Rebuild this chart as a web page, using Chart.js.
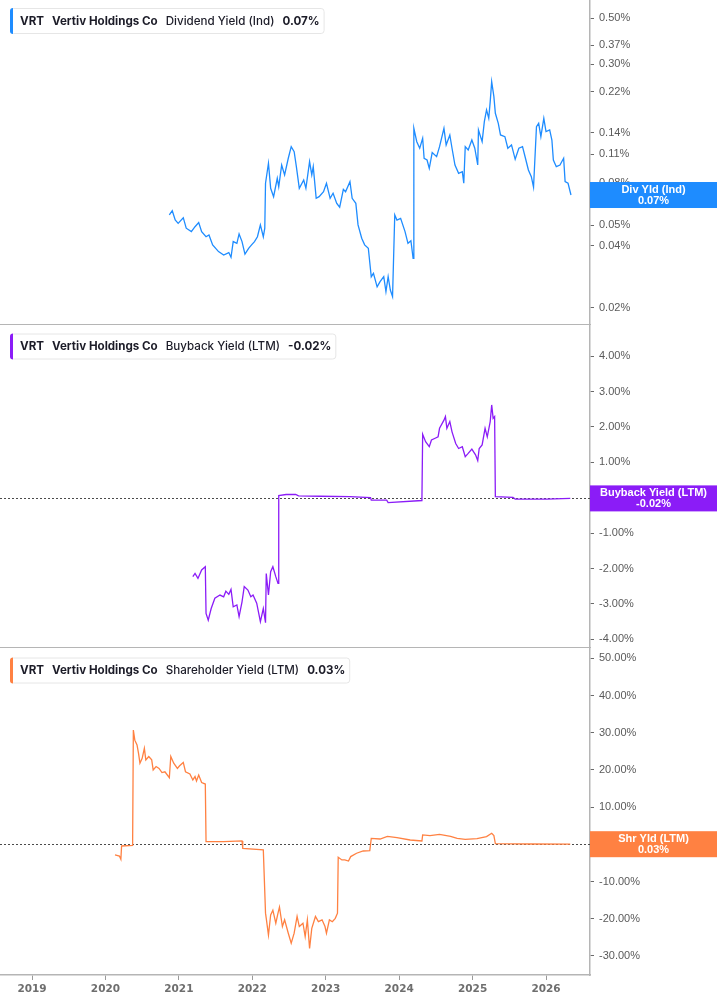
<!DOCTYPE html>
<html>
<head>
<meta charset="utf-8">
<script src="https://cdn.jsdelivr.net/npm/chart.js@4.4.1/dist/chart.umd.min.js"></script>
<style>
  body { margin: 0; background: #fff; }
  .panel { position: absolute; left: 0; width: 717px; }
</style>
</head>
<body>
<div class="panel" style="top:0;height:325px"><canvas id="div-chart"></canvas></div>
<div class="panel" style="top:325px;height:323px"><canvas id="buyback-chart"></canvas></div>
<div class="panel" style="top:648px;height:357px"><canvas id="shr-chart"></canvas></div>
<script>
// [year, value in %]
let divYield = [
  [2020.87,0.0562],[2020.91,0.0589],[2020.95,0.0531],[2020.99,0.0512],[2021.06,0.0545],[2021.10,0.0485],
  [2021.17,0.0467],[2021.22,0.0493],[2021.27,0.0516],[2021.31,0.0467],[2021.37,0.0441],[2021.41,0.0450],
  [2021.46,0.0403],[2021.54,0.0374],[2021.61,0.0360],[2021.68,0.0370],[2021.71,0.0351],[2021.74,0.0418],
  [2021.79,0.0410],[2021.82,0.0455],[2021.86,0.0418],[2021.90,0.0364],[2021.95,0.0388],[2021.99,0.0403],
  [2022.03,0.0418],[2022.07,0.0441],[2022.11,0.0503],[2022.15,0.0441],[2022.17,0.0485],[2022.18,0.0799],
  [2022.22,0.0997],[2022.25,0.0755],[2022.29,0.0688],[2022.34,0.0844],[2022.36,0.0769],[2022.40,0.0978],
  [2022.44,0.0876],[2022.49,0.1054],[2022.53,0.1199],[2022.57,0.1134],[2022.60,0.0960],[2022.64,0.0755],
  [2022.70,0.0828],[2022.73,0.0755],[2022.78,0.1015],[2022.81,0.0876],[2022.83,0.0960],[2022.87,0.0676],
  [2022.91,0.0688],[2022.97,0.0727],[2023.01,0.0799],[2023.06,0.0676],[2023.10,0.0715],[2023.15,0.0639],
  [2023.19,0.0612],[2023.24,0.0747],[2023.27,0.0727],[2023.33,0.0813],[2023.36,0.0676],[2023.41,0.0639],
  [2023.44,0.0503],[2023.49,0.0434],[2023.53,0.0403],[2023.58,0.0388],[2023.62,0.0283],[2023.65,0.0294],
  [2023.70,0.0253],[2023.74,0.0268],[2023.79,0.0283],[2023.82,0.0240],[2023.85,0.0283],[2023.88,0.0244],
  [2023.91,0.0227],[2023.94,0.0562],[2023.97,0.0531],[2024.02,0.0541],[2024.08,0.0467],[2024.12,0.0410],
  [2024.16,0.0422],[2024.19,0.0347],[2024.20,0.1470],[2024.24,0.1267],[2024.28,0.1178],[2024.32,0.1316],
  [2024.34,0.1054],[2024.38,0.1034],[2024.41,0.0943],[2024.45,0.1122],[2024.51,0.1073],[2024.55,0.1199],
  [2024.61,0.1470],[2024.64,0.1222],[2024.69,0.1365],[2024.72,0.1178],[2024.76,0.0978],[2024.81,0.0892],
  [2024.86,0.0908],[2024.88,0.0799],[2024.90,0.1199],[2024.94,0.1156],[2024.99,0.1291],[2025.03,0.1178],
  [2025.07,0.0978],[2025.08,0.1443],[2025.13,0.1267],[2025.16,0.1582],[2025.19,0.1802],[2025.22,0.1643],
  [2025.24,0.1976],[2025.26,0.2468],[2025.29,0.2088],[2025.31,0.1737],[2025.35,0.1554],[2025.38,0.1365],
  [2025.44,0.1340],[2025.48,0.1178],[2025.53,0.1222],[2025.58,0.1042],[2025.63,0.1178],[2025.68,0.1199],
  [2025.72,0.1054],[2025.76,0.0926],[2025.80,0.0859],[2025.83,0.0764],[2025.87,0.1497],[2025.90,0.1554],
  [2025.93,0.1340],[2025.97,0.1643],[2026.00,0.1416],[2026.05,0.1443],[2026.08,0.1291],[2026.10,0.1034],
  [2026.14,0.0960],[2026.19,0.0978],[2026.24,0.1054],[2026.26,0.0813],[2026.30,0.0799],[2026.34,0.0701]
];

let buybackYield = [
  [2021.19,-2.23],[2021.22,-2.14],[2021.26,-2.28],[2021.31,-2.04],[2021.36,-1.95],[2021.37,-3.27],
  [2021.40,-3.46],[2021.44,-3.13],[2021.49,-2.84],[2021.56,-2.75],[2021.61,-2.80],[2021.64,-2.64],
  [2021.68,-2.73],[2021.71,-2.59],[2021.74,-3.08],[2021.79,-3.03],[2021.82,-3.36],[2021.86,-2.94],
  [2021.89,-2.51],[2021.94,-2.61],[2021.98,-2.80],[2022.01,-2.75],[2022.06,-2.98],[2022.11,-3.50],
  [2022.15,-3.13],[2022.18,-3.53],[2022.19,-2.14],[2022.22,-2.75],[2022.25,-2.09],[2022.28,-1.95],
  [2022.32,-2.23],[2022.35,-2.42],[2022.36,0.06],[2022.46,0.09],[2022.59,0.09],[2022.63,0.05],
  [2022.92,0.04],[2023.33,0.03],[2023.61,0.00],[2023.62,-0.07],[2023.83,-0.07],[2023.85,-0.14],
  [2024.31,-0.08],[2024.32,1.79],[2024.36,1.58],[2024.41,1.44],[2024.44,1.63],[2024.49,1.68],
  [2024.53,1.72],[2024.55,1.96],[2024.61,2.19],[2024.63,2.29],[2024.65,1.96],[2024.69,2.15],
  [2024.72,1.86],[2024.77,1.53],[2024.81,1.39],[2024.86,1.44],[2024.90,1.16],[2024.94,1.25],
  [2024.99,1.37],[2025.04,1.21],[2025.07,1.05],[2025.09,1.39],[2025.13,1.49],[2025.17,1.96],
  [2025.20,1.72],[2025.24,2.15],[2025.26,2.62],[2025.28,2.24],[2025.30,2.29],[2025.31,0.03],
  [2025.55,0.01],[2025.58,-0.04],[2026.01,-0.04],[2026.33,-0.02]
];

let shareholderYield = [
  [2020.13,-2.87],[2020.19,-3.14],[2020.21,-4.03],[2020.22,-0.45],[2020.37,-0.27],[2020.38,30.7],
  [2020.40,28.0],[2020.43,26.7],[2020.45,24.5],[2020.47,21.8],[2020.50,23.1],[2020.53,25.8],
  [2020.55,22.7],[2020.59,23.6],[2020.63,22.7],[2020.65,20.0],[2020.69,20.9],[2020.73,20.4],
  [2020.77,19.3],[2020.81,19.5],[2020.87,17.9],[2020.89,23.6],[2020.93,21.8],[2020.98,20.4],
  [2021.01,21.1],[2021.06,22.0],[2021.09,19.5],[2021.15,18.9],[2021.19,17.3],[2021.22,18.2],
  [2021.24,17.0],[2021.27,18.6],[2021.31,16.6],[2021.36,16.2],[2021.37,0.72],[2021.61,0.72],
  [2021.86,0.90],[2021.87,-1.08],[2022.15,-1.52],[2022.18,-18.5],[2022.19,-19.9],[2022.22,-24.4],
  [2022.25,-19.0],[2022.28,-17.7],[2022.32,-21.2],[2022.35,-18.5],[2022.37,-16.9],[2022.41,-22.1],
  [2022.44,-20.3],[2022.49,-23.9],[2022.53,-26.6],[2022.57,-23.9],[2022.61,-19.4],[2022.64,-22.1],
  [2022.69,-21.2],[2022.72,-24.8],[2022.75,-20.3],[2022.78,-28.0],[2022.81,-22.6],[2022.86,-19.4],
  [2022.90,-20.8],[2022.95,-20.3],[2022.99,-22.1],[2023.01,-23.9],[2023.05,-20.3],[2023.09,-20.8],
  [2023.13,-19.9],[2023.16,-18.5],[2023.17,-3.5],[2023.22,-4.2],[2023.26,-4.2],[2023.31,-4.5],
  [2023.34,-3.3],[2023.42,-2.4],[2023.51,-1.8],[2023.60,-1.7],[2023.62,1.61],[2023.74,1.43],
  [2023.84,2.15],[2023.97,1.79],[2024.15,1.16],[2024.31,0.90],[2024.32,2.51],[2024.42,2.33],
  [2024.55,2.69],[2024.70,2.15],[2024.79,1.61],[2024.90,1.34],[2025.06,1.52],[2025.19,2.06],
  [2025.26,2.96],[2025.29,2.33],[2025.31,0.18],[2025.79,0.09],[2026.33,0.03]
];

let yearTicks = [2019, 2020, 2021, 2022, 2023, 2024, 2025, 2026];
let divTicks = [0.02, 0.04, 0.05, 0.08, 0.11, 0.14, 0.22, 0.30, 0.37, 0.50];
let buybackTicks = [-4, -3, -2, -1, 0, 1, 2, 3, 4];
let shrTicks = [-30, -20, -10, 0, 10, 20, 30, 40, 50];

let xMin = 2018.564;
let xMax = 2026.599;

Chart.defaults.font.family = '"Liberation Sans", Arial, sans-serif';

toPoints = (series) => series.map(p => ({x: p[0], y: p[1]}));
pct = (v) => v.toFixed(2) + '%';

let legendFont = 11.6;

let panelDecor = {
  id: 'panelDecor',
  beforeDatasetsDraw(chart, args, opts) {
    if (!opts.zeroLine) return;
    let ctx = chart.ctx;
    let area = chart.chartArea;
    let y = Math.round(chart.scales.y.getPixelForValue(0)) + 0.5;
    ctx.save();
    ctx.strokeStyle = '#4a4a4a';
    ctx.lineWidth = 1;
    ctx.setLineDash([2, 2]);
    ctx.beginPath();
    ctx.moveTo(area.left, y);
    ctx.lineTo(area.right, y);
    ctx.stroke();
    ctx.restore();
  },
  afterDraw(chart, args, opts) {
    let ctx = chart.ctx;
    ctx.save();

    // legend box, top left
    let parts = opts.legend;
    let gap = 8;
    let widths = parts.map(p => {
      ctx.font = p[1] + ' ' + legendFont + 'px Inter';
      return ctx.measureText(p[0]).width;
    });
    let textW = widths.reduce((a, b) => a + b, 0) + gap * (parts.length - 1);
    let bx = 10, by = opts.legendTop, bh = 25, bw = textW + 14;
    ctx.fillStyle = '#fff';
    ctx.strokeStyle = '#e6e6e6';
    ctx.lineWidth = 1;
    ctx.beginPath();
    ctx.roundRect(bx + 0.5, by + 0.5, bw, bh, 3);
    ctx.fill();
    ctx.stroke();
    ctx.fillStyle = opts.color;
    ctx.beginPath();
    ctx.roundRect(bx, by, 3, bh + 1, [3, 0, 0, 3]);
    ctx.fill();

    ctx.fillStyle = '#1c1c28';
    ctx.textBaseline = 'middle';
    ctx.textAlign = 'left';
    let tx = bx + 10;
    parts.forEach((p, i) => {
      ctx.font = p[1] + ' ' + legendFont + 'px Inter';
      ctx.fillText(p[0], tx, by + bh / 2 + 1);
      tx += widths[i] + gap;
    });

    // value tag on the right axis
    let yPix = chart.scales.y.getPixelForValue(opts.last);
    let left = chart.chartArea.right;
    let w = chart.width - left;
    let h = 26;
    ctx.fillStyle = opts.color;
    ctx.fillRect(left, yPix - h / 2, w, h);
    ctx.fillStyle = '#fff';
    ctx.textAlign = 'center';
    ctx.font = 'bold 11px "Liberation Sans", Arial, sans-serif';
    ctx.fillText(opts.tagTitle, left + w / 2, yPix - 5);
    ctx.fillText(pct(opts.last), left + w / 2, yPix + 6);

    ctx.restore();
  }
};

makeXScale = (showLabels) => ({
  type: 'linear',
  min: xMin,
  max: xMax,
  afterBuildTicks: (scale) => { scale.ticks = yearTicks.map(v => ({value: v})); },
  afterFit: (scale) => {
    scale.height = showLabels ? 30 : 0;
    scale.paddingLeft = 0;
    scale.paddingRight = 0;
  },
  grid: { display: showLabels, drawOnChartArea: false, drawTicks: true, tickLength: 5, color: '#9a9a9a' },
  border: { display: true, color: '#b5b5b5', width: 1.5 },
  ticks: {
    display: showLabels,
    autoSkip: false,
    maxRotation: 0,
    padding: 3,
    color: '#6e6e6e',
    font: { family: '"DejaVu Sans", sans-serif', size: 10.5, weight: 'bold' },
    callback: (v) => String(v)
  }
});

makeYScale = (type, min, max, tickList) => ({
  type: type,
  position: 'right',
  min: min,
  max: max,
  afterBuildTicks: (scale) => { scale.ticks = tickList.map(v => ({value: v})); },
  afterFit: (scale) => {
    scale.width = 127;
    scale.paddingTop = 0;
    scale.paddingBottom = 0;
  },
  grid: { drawOnChartArea: false, drawTicks: true, tickLength: 4, color: '#6a6a6a' },
  border: { display: true, color: '#b5b5b5', width: 1.5 },
  ticks: {
    autoSkip: false,
    padding: 5,
    color: '#5a5a5a',
    font: { size: 11 },
    callback: (v) => pct(v)
  }
});

makeConfig = (series, color, yScale, showYears, decor) => ({
  type: 'line',
  data: {
    datasets: [{
      data: toPoints(series),
      borderColor: color,
      backgroundColor: color,
      borderWidth: 1.3,
      pointRadius: 0,
      tension: 0
    }]
  },
  options: {
    responsive: true,
    maintainAspectRatio: false,
    animation: false,
    layout: { padding: 0 },
    events: [],
    scales: {
      x: makeXScale(showYears),
      y: yScale
    },
    plugins: {
      legend: { display: false },
      tooltip: { enabled: false },
      panelDecor: decor
    }
  },
  plugins: [panelDecor]
});

let divColor = '#1e8cff';
let buybackColor = '#8b1cf7';
let shrColor = '#ff8142';

let divChart = new Chart(document.getElementById('div-chart'), makeConfig(
  divYield, divColor,
  makeYScale('logarithmic', 0.01656, 0.6107, divTicks), false,
  {
    color: divColor, legendTop: 8, zeroLine: false,
    legend: [['VRT', 'bold'], ['Vertiv Holdings Co', 'bold'], ['Dividend Yield (Ind)', '500'], [pct(0.07), 'bold']],
    tagTitle: 'Div Yld (Ind)', last: divYield[divYield.length - 1][1]
  }
));

let buybackChart = new Chart(document.getElementById('buyback-chart'), makeConfig(
  buybackYield, buybackColor,
  makeYScale('linear', -4.246, 4.878, buybackTicks), false,
  {
    color: buybackColor, legendTop: 8.5, zeroLine: true,
    legend: [['VRT', 'bold'], ['Vertiv Holdings Co', 'bold'], ['Buyback Yield (LTM)', '500'], [pct(-0.02), 'bold']],
    tagTitle: 'Buyback Yield (LTM)', last: buybackYield[buybackYield.length - 1][1]
  }
));

let shrChart = new Chart(document.getElementById('shr-chart'), makeConfig(
  shareholderYield, shrColor,
  makeYScale('linear', -35.13, 52.77, shrTicks), true,
  {
    color: shrColor, legendTop: 9.5, zeroLine: true,
    legend: [['VRT', 'bold'], ['Vertiv Holdings Co', 'bold'], ['Shareholder Yield (LTM)', '500'], [pct(0.03), 'bold']],
    tagTitle: 'Shr Yld (LTM)', last: shareholderYield[shareholderYield.length - 1][1]
  }
));
</script>
</body>
</html>
